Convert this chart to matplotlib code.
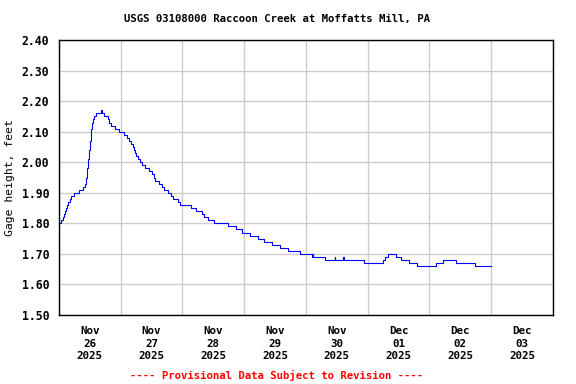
import pandas as pd
import matplotlib.pyplot as plt
import matplotlib.dates as mdates

# step changes: hours after 2025-11-26 00:00 and gage height (ft)
hours = [0, 0.8, 1.5, 1.9, 2.3, 2.7, 3.1, 3.5, 4.1, 4.6, 5.8, 7.7, 9.3, 10.1, 10.5,
         10.8, 11.2, 11.6, 12.0, 12.4, 12.8, 13.2, 13.5, 14.3, 16.3, 16.6, 17.4,
         19.0, 19.4, 20.1, 21.7, 23.2, 25.2, 26.3, 27.1, 27.9, 28.6, 29.0, 29.6,
         30.0, 30.6, 31.4, 32.1, 33.3, 34.8, 36.0, 36.8, 37.5, 38.7, 39.9, 41.0,
         42.2, 43.7, 44.5, 46.1, 47.2, 51.5, 53.4, 55.4, 56.5, 58.1, 60.4, 65.8,
         68.9, 71.2, 74.3, 77.4, 79.7, 82.8, 85.9, 89.0, 93.7, 98.3, 98.6, 98.9,
         103.4, 107.1, 107.4, 110.4, 110.7, 118.5, 125.8, 126.6, 127.7, 130.8,
         132.8, 135.9, 139.0, 146.7, 149.4, 154.5, 161.8, 168.0]
gage = [1.80, 1.81, 1.82, 1.83, 1.84, 1.85, 1.86, 1.87, 1.88, 1.89, 1.90, 1.91, 1.92, 1.93, 1.95,
        1.98, 2.01, 2.04, 2.07, 2.11, 2.13, 2.14, 2.15, 2.16, 2.17, 2.16, 2.15,
        2.14, 2.13, 2.12, 2.11, 2.10, 2.09, 2.08, 2.07, 2.06, 2.05, 2.04, 2.03,
        2.02, 2.01, 2.00, 1.99, 1.98, 1.97, 1.96, 1.95, 1.94, 1.93, 1.92, 1.91,
        1.90, 1.89, 1.88, 1.87, 1.86, 1.85, 1.84, 1.83, 1.82, 1.81, 1.80, 1.79,
        1.78, 1.77, 1.76, 1.75, 1.74, 1.73, 1.72, 1.71, 1.70, 1.69, 1.70, 1.69,
        1.68, 1.69, 1.68, 1.69, 1.68, 1.67, 1.68, 1.69, 1.70, 1.69,
        1.68, 1.67, 1.66, 1.67, 1.68, 1.67, 1.66, 1.66]
yticks = [1.50, 1.60, 1.70, 1.80, 1.90, 2.00, 2.10, 2.20, 2.30, 2.40]

start = pd.Timestamp("2025-11-26")
t = start + pd.to_timedelta(hours, unit="h")

plt.rcParams["font.family"] = "DejaVu Sans Mono"
plt.rcParams["font.weight"] = "bold"

fig = plt.figure(figsize=(5.76, 3.84), dpi=100)
ax = fig.add_axes([0.1024, 0.1797, 0.8576, 0.7161])
ax.plot(t, gage, color="#0000ff", lw=0.8, drawstyle="steps-post")

ax.set_xlim(start, start + pd.Timedelta(days=8))
ax.set_ylim(1.50, 2.40)
ax.set_yticks(yticks)
ax.set_yticklabels([f"{v:.2f}" for v in yticks], fontsize=8.3)

ax.xaxis.set_major_locator(mdates.DayLocator())
ax.xaxis.set_major_formatter(plt.NullFormatter())
ax.xaxis.set_minor_locator(mdates.HourLocator(byhour=[12]))
ax.xaxis.set_minor_formatter(mdates.DateFormatter("%b\n%d\n%Y"))
for lb in ax.xaxis.get_minorticklabels():
    lb.set_linespacing(1.3)

ax.grid(True, which="major", color="#cccccc", lw=1.0)
ax.set_axisbelow(True)
ax.tick_params(axis="both", which="both", length=0)
ax.tick_params(axis="y", pad=7)
ax.tick_params(axis="x", which="minor", pad=8, labelsize=7.8)
for s in ax.spines.values():
    s.set_linewidth(1.0)

ax.set_ylabel("Gage height, feet", fontsize=8.2, labelpad=5)
fig.text(0.481, 0.95, "USGS 03108000 Raccoon Creek at Moffatts Mill, PA",
         ha="center", va="center", fontsize=7.7)
fig.text(0.481, 0.023, "---- Provisional Data Subject to Revision ----",
         ha="center", va="center", fontsize=7.7, color="#ff0000")

fig.savefig("out.png", dpi=100)
